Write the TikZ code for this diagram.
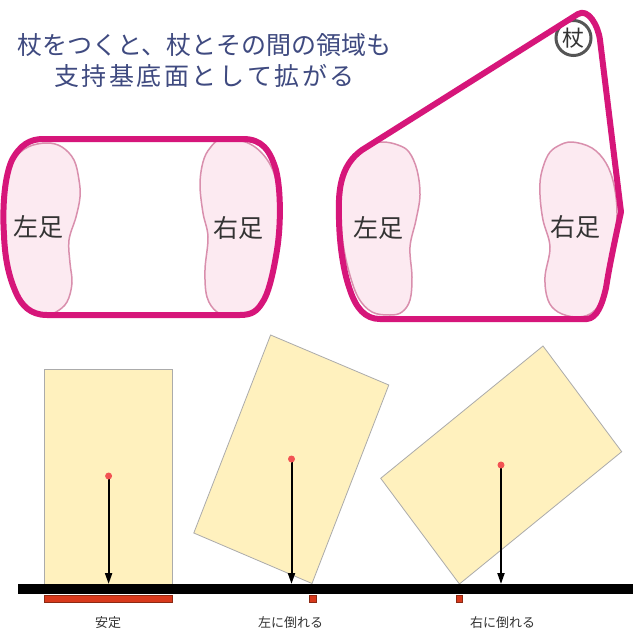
\documentclass[tikz,border=0pt]{standalone}
\usepackage{fontspec}
\newfontfamily\jp{Noto Sans CJK JP}
\usetikzlibrary{arrows.meta}
\definecolor{pinkline}{RGB}{214,22,122}
\definecolor{footfill}{RGB}{252,234,241}
\definecolor{footline}{RGB}{217,143,173}
\definecolor{titleblue}{RGB}{63,74,128}
\definecolor{labelgray}{RGB}{51,51,51}
\definecolor{blockfill}{RGB}{255,241,190}
\definecolor{blockline}{RGB}{171,171,171}
\definecolor{cogred}{RGB}{242,83,83}
\definecolor{basered}{RGB}{216,57,28}
\definecolor{basedark}{RGB}{139,42,20}
\definecolor{canegray}{RGB}{85,85,85}
\tikzset{
  outline/.style={draw=pinkline, line width=6pt, line join=round},
  foot/.style={draw=footline, fill=footfill, line width=1.5pt},
  footlabel/.style={font=\jp\fontsize{25}{25}\selectfont, text=labelgray, inner sep=0pt},
  titletext/.style={font=\jp\fontsize{25}{25}\selectfont, text=titleblue, inner sep=0pt},
  cane/.style={circle, draw=canegray, line width=3pt, fill=white, minimum size=35pt, inner sep=0pt,
    font=\jp\fontsize{22}{22}\selectfont, text=labelgray},
  block/.style={draw=blockline, fill=blockfill, line width=0.8pt},
  cog/.style={circle, fill=cogred, inner sep=0pt, minimum size=7pt},
  gravity/.style={-{Triangle[length=11pt,width=7pt]}, line width=2pt, black},
  base/.style={fill=basered, draw=basedark, line width=0.6pt},
  caption/.style={font=\jp\fontsize{13}{13}\selectfont, text=labelgray, inner sep=0pt},
}
\begin{document}
\begin{tikzpicture}[x=1pt,y=-1pt]
\useasboundingbox (0,0) rectangle (633,630);
\fill[white] (0,0) rectangle (633,630);

% ---------- title ----------
\node[titletext] (title1) at (204.5,45) {杖をつくと、杖とその間の領域も};
\node[titletext] (title2) at (204.5,76) {支\kern2.6pt 持\kern2.6pt 基\kern2.6pt 底\kern2.6pt 面\kern2.6pt と\kern2.6pt し\kern2.6pt て\kern2.6pt 拡\kern2.6pt が\kern2.6pt る};

% ---------- left support base (feet only) ----------
\draw[foot] plot[smooth cycle, tension=0.6] coordinates {
  (47,143) (62,147) (74,160) (79,180) (80,197) (76,217) (69,240) (70,263) (72,283)
  (67,302) (56,312) (45,315) (28,310) (14,290) (7,260) (4,220) (6,185) (14,160) (28,147)};
\draw[foot] plot[smooth cycle, tension=0.6] coordinates {
  (222,139) (210,148) (203,162) (200,185) (203,213) (208,237) (205,270) (207,297)
  (217,312) (232,316) (250,314) (263,302) (271,280) (277,245) (279,210) (276,180) (266,158) (248,143)};
\draw[outline] (43,139) -- (243,139)
  .. controls (262,139) and (270,150) .. (276,170)
  .. controls (281,190) and (281,225) .. (277,250)
  .. controls (273,275) and (268,295) .. (262,303)
  .. controls (257,311) and (252,315) .. (240,315)
  -- (47,315)
  .. controls (30,315) and (22,305) .. (17,295)
  .. controls (10,280) and (5,262) .. (4,235)
  .. controls (2,205) and (5,175) .. (12,160)
  .. controls (20,145) and (30,139) .. (43,139) -- cycle;
\node[footlabel] (lL) at (38,227) {左足};
\node[footlabel] (lR) at (238,228) {右足};

% ---------- right support base (feet + cane) ----------
\draw[foot] plot[smooth cycle, tension=0.6] coordinates {
  (383,142) (398,145) (409,152) (417,170) (420,195) (416,220) (410,247) (412,277)
  (410,300) (402,312) (390,315) (372,312) (358,297) (348,268) (342,235) (341,200) (345,172) (355,155) (368,145)};
\draw[foot] plot[smooth cycle, tension=0.6] coordinates {
  (572,142) (558,146) (548,155) (541,175) (540,195) (543,220) (550,247) (545,277)
  (548,300) (558,312) (575,317) (590,314) (600,303) (607,282) (613,250) (617,215) (614,185) (606,163) (592,148)};
\node[cane] (cane) at (573.5,38) {杖};
\draw[outline] (380,319) -- (587,319)
  .. controls (597,318) and (602,305) .. (606,288)
  .. controls (608,275) and (611,258) .. (621,212)
  -- (600,40)
  .. controls (598,25) and (588,8) .. (578,14)
  -- (362,150)
  .. controls (348,160) and (340,175) .. (339,200)
  .. controls (338,240) and (343,270) .. (350,290)
  .. controls (356,308) and (365,319) .. (380,319) -- cycle;
\node[footlabel] (rL) at (378,228) {左足};
\node[footlabel] (rR) at (575,227) {右足};

% ---------- blocks ----------
\draw[block] (44,369) rectangle (172,585);
\draw[block] (193.8,533) -- (312,583.5) -- (388.8,385) -- (270.6,335) -- cycle;
\draw[block] (380.7,478.3) -- (459.4,584) -- (621.7,451.7) -- (543,346) -- cycle;

% ground
\fill[black] (18,584) rectangle (633,594);
\coordinate (g1) at (108.6,584);
\coordinate (g2) at (291.5,584);
\coordinate (g3) at (501,584);

% support lengths
\draw[base] (44,595) rectangle (172.5,602);
\draw[base] (309.5,595) rectangle (316,602);
\draw[base] (456.6,595) rectangle (462.6,602);

% centres of gravity
\coordinate (p1) at (108.6,476);
\coordinate (p2) at (291.5,459);
\coordinate (p3) at (501,465);
\draw[gravity] (p1) -- (g1);
\draw[gravity] (p2) -- (g2);
\draw[gravity] (p3) -- (g3);
\node[cog] (c1) at (p1) {};
\node[cog] (c2) at (p2) {};
\node[cog] (c3) at (p3) {};

% captions
\node[caption] (k1) at (108,623) {安定};
\node[caption] (k2) at (290.7,623) {左に倒れる};
\node[caption] (k3) at (502.6,623) {右に倒れる};
\end{tikzpicture}
\end{document}
